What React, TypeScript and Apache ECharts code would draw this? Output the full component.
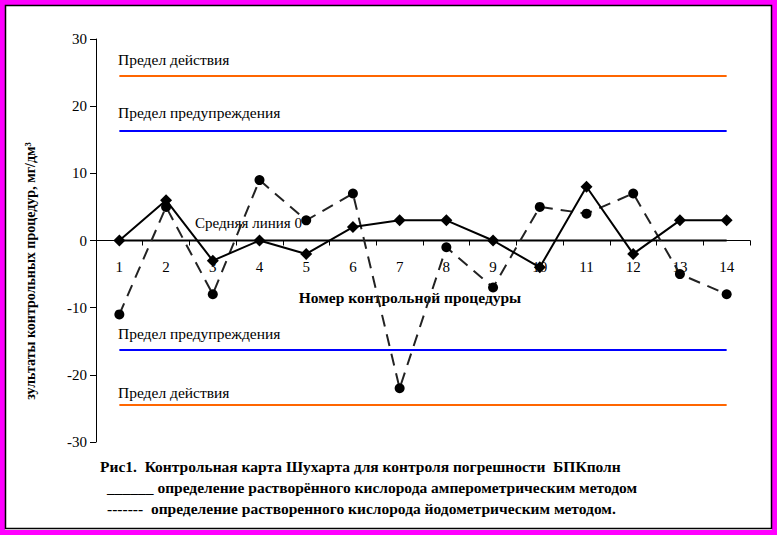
import React, { useEffect, useRef } from "react";
import * as echarts from "echarts";

const categories = ["1", "2", "3", "4", "5", "6", "7", "8", "9", "10", "11", "12", "13", "14"];
const amperometric = [0, 6, -3, 0, -2, 2, 3, 3, 0, -4, 8, -2, 3, 3];
const iodometric = [-11, 5, -8, 9, 3, 7, -22, -1, -7, 5, 4, 7, -5, -8];
const actionLimit = 24.5;
const warningLimit = 16.3;
const meanValue = 0;
const yTicks = { min: -30, max: 30, interval: 10 };

const FONT = "'Liberation Serif', 'Times New Roman', serif";

export default function App() {
  const ref = useRef<HTMLDivElement>(null);
  useEffect(() => {
    if (!ref.current) return;
    const chart = echarts.init(ref.current, undefined, { renderer: "svg" });
    const flat = (v: number) => categories.map(() => v);
    chart.setOption({
      animation: false,
      backgroundColor: "#ffffff",
      grid: { left: 96, right: 27, top: 39, bottom: 93 },
      xAxis: {
        type: "category",
        data: categories,
        boundaryGap: true,
        position: "bottom",
        offset: -201.5,
        axisLine: { onZero: false, lineStyle: { color: "#000", width: 1 } },
        axisTick: { show: true, inside: false, length: 5, lineStyle: { color: "#000" } },
        axisLabel: { color: "#000", fontFamily: FONT, fontSize: 15, margin: 19 },
        splitLine: { show: false },
      },
      yAxis: {
        type: "value",
        min: yTicks.min,
        max: yTicks.max,
        interval: yTicks.interval,
        axisLine: { show: true, lineStyle: { color: "#000", width: 1 } },
        axisTick: { show: true, length: 6, lineStyle: { color: "#000" } },
        axisLabel: { color: "#000", fontFamily: FONT, fontSize: 15, margin: 9 },
        splitLine: { show: false },
      },
      series: [
        { type: "line", data: flat(actionLimit), symbol: "none", lineStyle: { color: "#FF6600", width: 2 }, silent: true },
        { type: "line", data: flat(warningLimit), symbol: "none", lineStyle: { color: "#0000FF", width: 2 }, silent: true },
        { type: "line", data: flat(-warningLimit), symbol: "none", lineStyle: { color: "#0000FF", width: 2 }, silent: true },
        { type: "line", data: flat(-actionLimit), symbol: "none", lineStyle: { color: "#FF6600", width: 2 }, silent: true },
        { type: "line", data: flat(meanValue), symbol: "none", lineStyle: { color: "#000", width: 2 }, silent: true },
        {
          type: "line",
          data: iodometric,
          symbol: "circle",
          symbolSize: 10,
          itemStyle: { color: "#000" },
          lineStyle: { color: "#222", width: 2, type: [12, 8] },
        },
        {
          type: "line",
          data: amperometric,
          symbol: "diamond",
          symbolSize: 12,
          itemStyle: { color: "#000" },
          lineStyle: { color: "#000", width: 2 },
        },
      ],
      graphic: [
        { type: "rect", shape: { x: 0, y: 0, width: 777, height: 535 }, style: { fill: "none", stroke: "#FF00FF", lineWidth: 10 }, silent: true, z: 100 },
        { type: "rect", shape: { x: 5.5, y: 5.5, width: 766, height: 523 }, style: { fill: "none", stroke: "#000", lineWidth: 1.5 }, silent: true, z: 100 },
        { type: "text", x: 118, y: 59, style: { text: "Предел действия", font: `15.5px ${FONT}`, fill: "#000", verticalAlign: "middle" } },
        { type: "text", x: 118, y: 112, style: { text: "Предел предупреждения", font: `15.5px ${FONT}`, fill: "#000", verticalAlign: "middle" } },
        { type: "text", x: 118, y: 333, style: { text: "Предел предупреждения", font: `15.5px ${FONT}`, fill: "#000", verticalAlign: "middle" } },
        { type: "text", x: 118, y: 392, style: { text: "Предел действия", font: `15.5px ${FONT}`, fill: "#000", verticalAlign: "middle" } },
        { type: "text", x: 195, y: 223, style: { text: "Средняя линия 0", font: `15px ${FONT}`, fill: "#000", verticalAlign: "middle" }, z: 1 },
        { type: "text", x: 410, y: 297, style: { text: "Номер контрольной процедуры", font: `bold 15.5px ${FONT}`, fill: "#000", align: "center", verticalAlign: "middle" } },
        { type: "text", x: 30, y: 271, rotation: Math.PI / 2, style: { text: "зультаты контрольных процедур, мг/дм³", font: `bold 14px ${FONT}`, fill: "#000", align: "center", verticalAlign: "middle" } },
        { type: "text", x: 100, y: 466, style: { text: "Рис1.  Контрольная карта Шухарта для контроля погрешности  БПКполн", font: `bold 15.5px ${FONT}`, fill: "#000", verticalAlign: "middle" } },
        { type: "text", x: 107, y: 487, style: { text: "______ определение растворённого кислорода амперометрическим методом", font: `bold 15.5px ${FONT}`, fill: "#000", verticalAlign: "middle" } },
        { type: "text", x: 107, y: 508, style: { text: "-------  определение растворенного кислорода йодометрическим методом.", font: `bold 15.5px ${FONT}`, fill: "#000", verticalAlign: "middle" } },
      ],
    });
    return () => chart.dispose();
  }, []);
  return <div ref={ref} style={{ position: "absolute", left: 0, top: 0, width: 777, height: 535 }} />;
}
